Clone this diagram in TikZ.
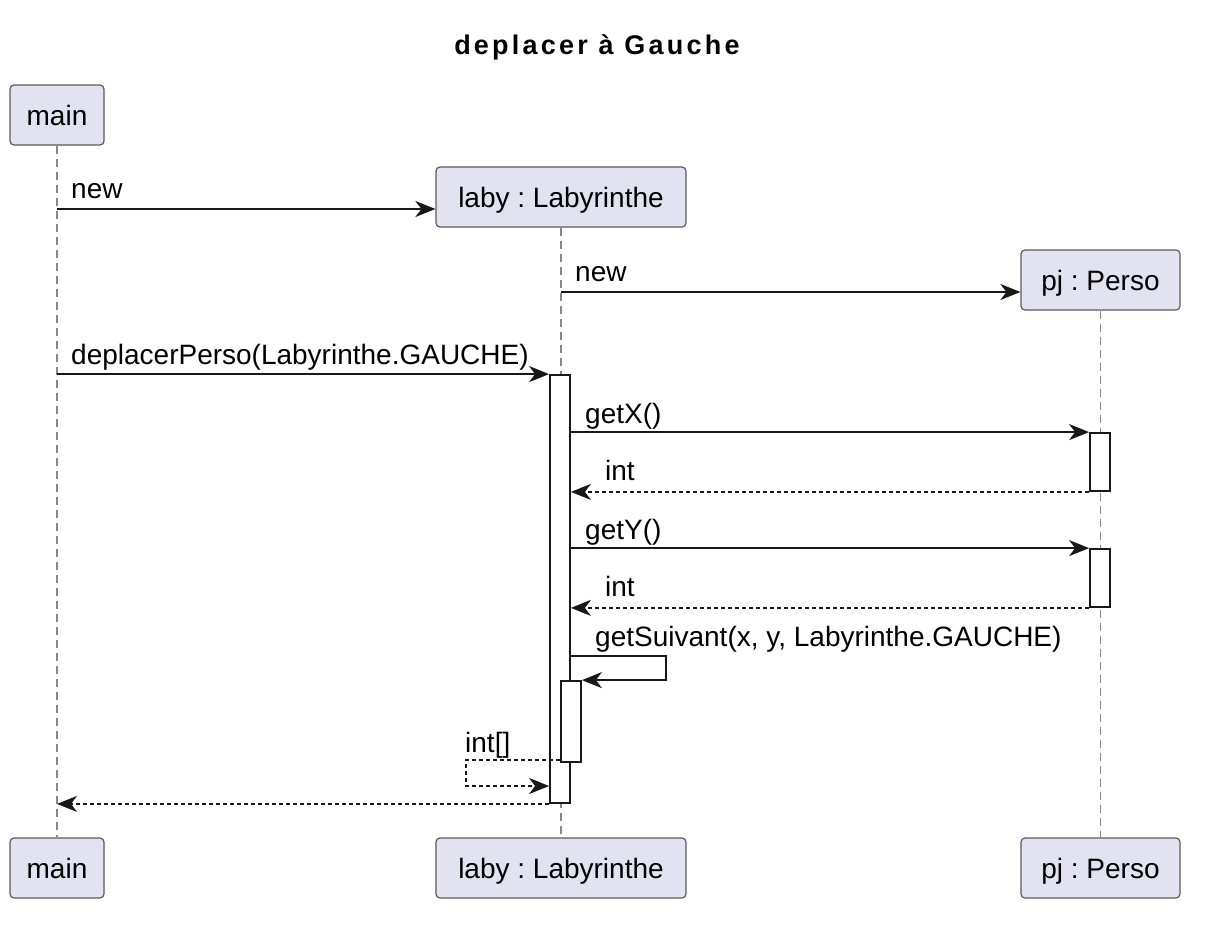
\documentclass[tikz,border=0pt]{standalone}
\usepackage{fontspec}
\setmainfont{Liberation Sans}
\newfontfamily\titlefont{Liberation Sans}[LetterSpace=12]
\usepackage{xcolor}
\usetikzlibrary{arrows.meta}
\usetikzlibrary{calc}
\definecolor{partfill}{HTML}{E2E2F0}
\definecolor{partline}{HTML}{5A5A5A}
\definecolor{lifegray}{HTML}{888888}
\definecolor{ink}{HTML}{181818}
\tikzset{
  % A participant box (head and foot)
  part/.style={
    draw=partline, fill=partfill, rounded corners=4pt, line width=1.2pt,
    inner sep=0pt, minimum height=60pt, text height=26pt, text depth=6pt,
    minimum width=#1},
  % Lifeline under a participant
  life/.style={draw=lifegray, line width=1.8pt, dash pattern=on 8pt off 5pt},
  % Activation bar
  actbar/.style={
    draw=ink, fill=white, line width=1.8pt, inner sep=0pt,
    minimum width=20pt, minimum height=#1},
  % Messages
  msg/.style={-{Stealth[length=20pt,width=16pt,inset=6pt]}, draw=ink, line width=1.8pt},
  ret/.style={msg, dash pattern=on 4pt off 3pt},
  lbl/.style={anchor=base west, inner sep=0pt},
}
\newcommand{\seqpart}[5]{%
  \node[part=#4] (#1Top) at (#2,#5) {#3};
  \node[part=#4] (#1Bot) at (#2,868) {#3};
  \draw[life] (#1Top) -- (#1Bot);}

\begin{document}
\frenchspacing
\begin{tikzpicture}[x=1pt, y=-1pt, font=\fontsize{28}{34}\selectfont]
  \useasboundingbox (0,0) rectangle (1215,942);

  \node[font=\titlefont\bfseries\fontsize{27}{32}\selectfont] (title) at (597,47) {deplacer à Gauche};

  \seqpart{main}{57}{main}{94}{115}
  \seqpart{laby}{561}{laby : Labyrinthe}{250}{197}
  \seqpart{pj}{1100.5}{pj : Perso}{159}{280}

  \node[actbar=428] (actLaby) at (560,589) {};
  \node[actbar=58] (actPj1) at (1100,462) {};
  \node[actbar=58] (actPj2) at (1100,578) {};
  \node[actbar=81] (actSelf) at (571,721.5) {};

  \draw[msg] (mainTop |- 0,209) -- (labyTop.west |- 0,209);
  \node[lbl] (lNew1) at (71,198) {new};
  \draw[msg] (labyTop |- 0,292) -- (pjTop.west |- 0,292);
  \node[lbl] (lNew2) at (575,281) {new};

  \draw[msg] (mainTop |- actLaby.north) -- (actLaby.north west);
  \node[lbl] (lDep) at (71,364) {deplacerPerso(Labyrinthe.GAUCHE)};

  \draw[msg] (actLaby.east |- actPj1.north) -- (actPj1.north west);
  \node[lbl] (lGetX) at (585,423) {getX()};
  \draw[ret] (actPj1.south west) -- (actLaby.east |- actPj1.south);
  \node[lbl] (lInt1) at (605,480) {int};

  \draw[msg] (actLaby.east |- actPj2.north) -- (actPj2.north west);
  \node[lbl] (lGetY) at (585,539) {getY()};
  \draw[ret] (actPj2.south west) -- (actLaby.east |- actPj2.south);
  \node[lbl] (lInt2) at (605,596) {int};

  \draw[msg] (actLaby.east |- 0,656) -| ($(actSelf.north east)+(84,0)$) -- (actSelf.north east);
  \node[lbl] (lSuiv) at (595,646) {getSuivant(x, y, Labyrinthe.GAUCHE)};

  \draw[ret] (actSelf.west |- 0,760) -- ++(-94,0) |- (actLaby.west |- 0,786);
  \node[lbl] (lIntArr) at (465,752) {int[]};

  \draw[ret] (actLaby.south west) -- (mainTop |- actLaby.south);

\end{tikzpicture}
\end{document}
